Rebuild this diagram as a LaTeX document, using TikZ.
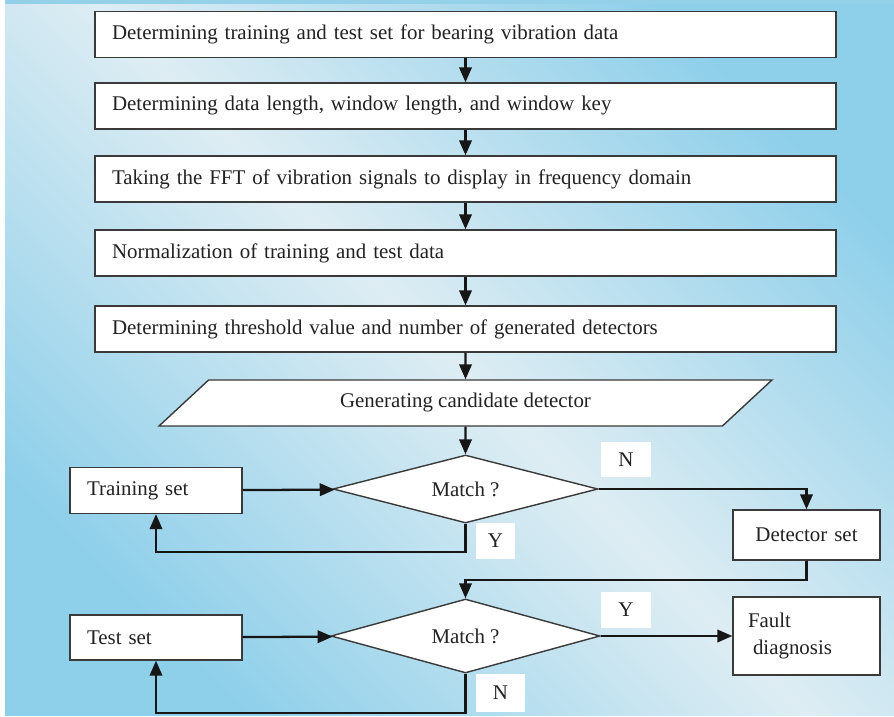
\documentclass[tikz,border=0pt]{standalone}
\usepackage{fontspec}
\setmainfont{Liberation Serif}
\usetikzlibrary{arrows.meta,shapes.geometric}
\definecolor{bgblue}{HTML}{8ECFEA}
\definecolor{bglight}{HTML}{DEEDF3}
\definecolor{bgtop}{HTML}{94D0E8}
\definecolor{inkline}{HTML}{3A3A3A}
\definecolor{inkarrow}{HTML}{161616}
\definecolor{inktext}{HTML}{222222}

\begin{document}
\begin{tikzpicture}[
  x=0.02cm, y=-0.02cm,
  font=\fontsize{11.9}{15.4}\selectfont,
  >={Triangle[length=3mm,width=2.5mm]},
  stepbox/.style={draw=inkline, line width=0.8pt, fill=white, text=inktext, align=left,
                  inner xsep=0.34cm, inner ysep=0pt, text width=14.14cm, minimum height=0.92cm},
  sidebox/.style={draw=inkline, line width=0.8pt, fill=white, text=inktext, align=left,
                  inner xsep=0.34cm, inner ysep=0pt, text width=2.76cm, minimum height=0.92cm},
  setbox/.style={draw=inkline, line width=0.8pt, fill=white, text=inktext,
                 inner xsep=0.3cm, inner ysep=0pt, text width=2.34cm},
  iobox/.style={trapezium, trapezium left angle=21, trapezium right angle=159,
                trapezium stretches body, draw=inkline, line width=0.8pt, fill=white,
                text=inktext, inner sep=0pt, minimum width=12.26cm, minimum height=0.92cm},
  decide/.style={diamond, aspect=3.9, draw=inkline, line width=0.8pt, fill=white,
                 text=inktext, inner sep=0pt},
  tag/.style={fill=white, text=inktext, inner sep=0pt, minimum width=1cm, minimum height=0.72cm},
  arr/.style={->, draw=inkarrow, line width=1.3pt},
]

% ---- background ----
\useasboundingbox (0,0) rectangle (894,717);
\shade[left color=bgblue, right color=bgblue, middle color=bglight, shading angle=135]
  (5,0) rectangle (894,715);
\fill[bgtop] (5,0) rectangle (894,4);

% ---- preparation steps ----
\node[stepbox](s1) at (465.5,34.5)  {Determining training and test set for bearing vibration data};
\node[stepbox](s2) at (465.5,106)   {Determining data length, window length, and window key};
\node[stepbox](s3) at (465.5,179)   {Taking the FFT of vibration signals to display in frequency domain};
\node[stepbox](s4) at (465.5,253)   {Normalization of training and test data};
\node[stepbox](s5) at (465.5,329)   {Determining threshold value and number of generated detectors};

\node[iobox](gen) at (465.5,403) {Generating candidate detector};

% ---- training stage ----
\node[decide, minimum width=5.3cm, minimum height=1.36cm](d1) at (465.5,489) {Match ?};
\node[sidebox](tr)  at (156,490.5) {Training set};
\node[setbox, align=center, minimum height=1.0cm](det) at (806.5,535) {Detector set};

% ---- testing stage ----
\node[decide, minimum width=5.38cm, minimum height=1.48cm](d2) at (465.5,636) {Match ?};
\node[sidebox, minimum height=0.9cm](ts) at (156,637.5) {Test set};
\node[setbox, align=left, minimum height=1.56cm](fd) at (806.5,636) {Fault\\\hspace*{0.1cm}diagnosis};

% ---- branch tags ----
\node[tag](n1) at (626,459.5) {N};
\node[tag, minimum width=0.78cm](y1) at (495.5,541) {Y};
\node[tag](y2) at (626,610) {Y};
\node[tag, minimum width=0.98cm, minimum height=0.76cm](n2) at (500.5,693) {N};

% ---- arrows ----
\draw[arr] (s1) -- (s2);
\draw[arr] (s2) -- (s3);
\draw[arr] (s3) -- (s4);
\draw[arr] (s4) -- (s5);
\draw[arr] (s5) -- (gen);
\draw[arr] (gen) -- (d1);
\draw[arr] (tr) -- (d1);
\draw[arr] (d1.south) -- ++(0,28) -| (tr.south);
\draw[arr] (d1.east) -| (det.north);
\draw[arr] (det.south) -- ++(0,19) -| (d2.north);
\draw[arr] (ts) -- (d2);
\draw[arr] (d2.south) -- ++(0,39) -| (ts.south);
\draw[arr] (d2.east) -- (fd.west);

\end{tikzpicture}
\end{document}
